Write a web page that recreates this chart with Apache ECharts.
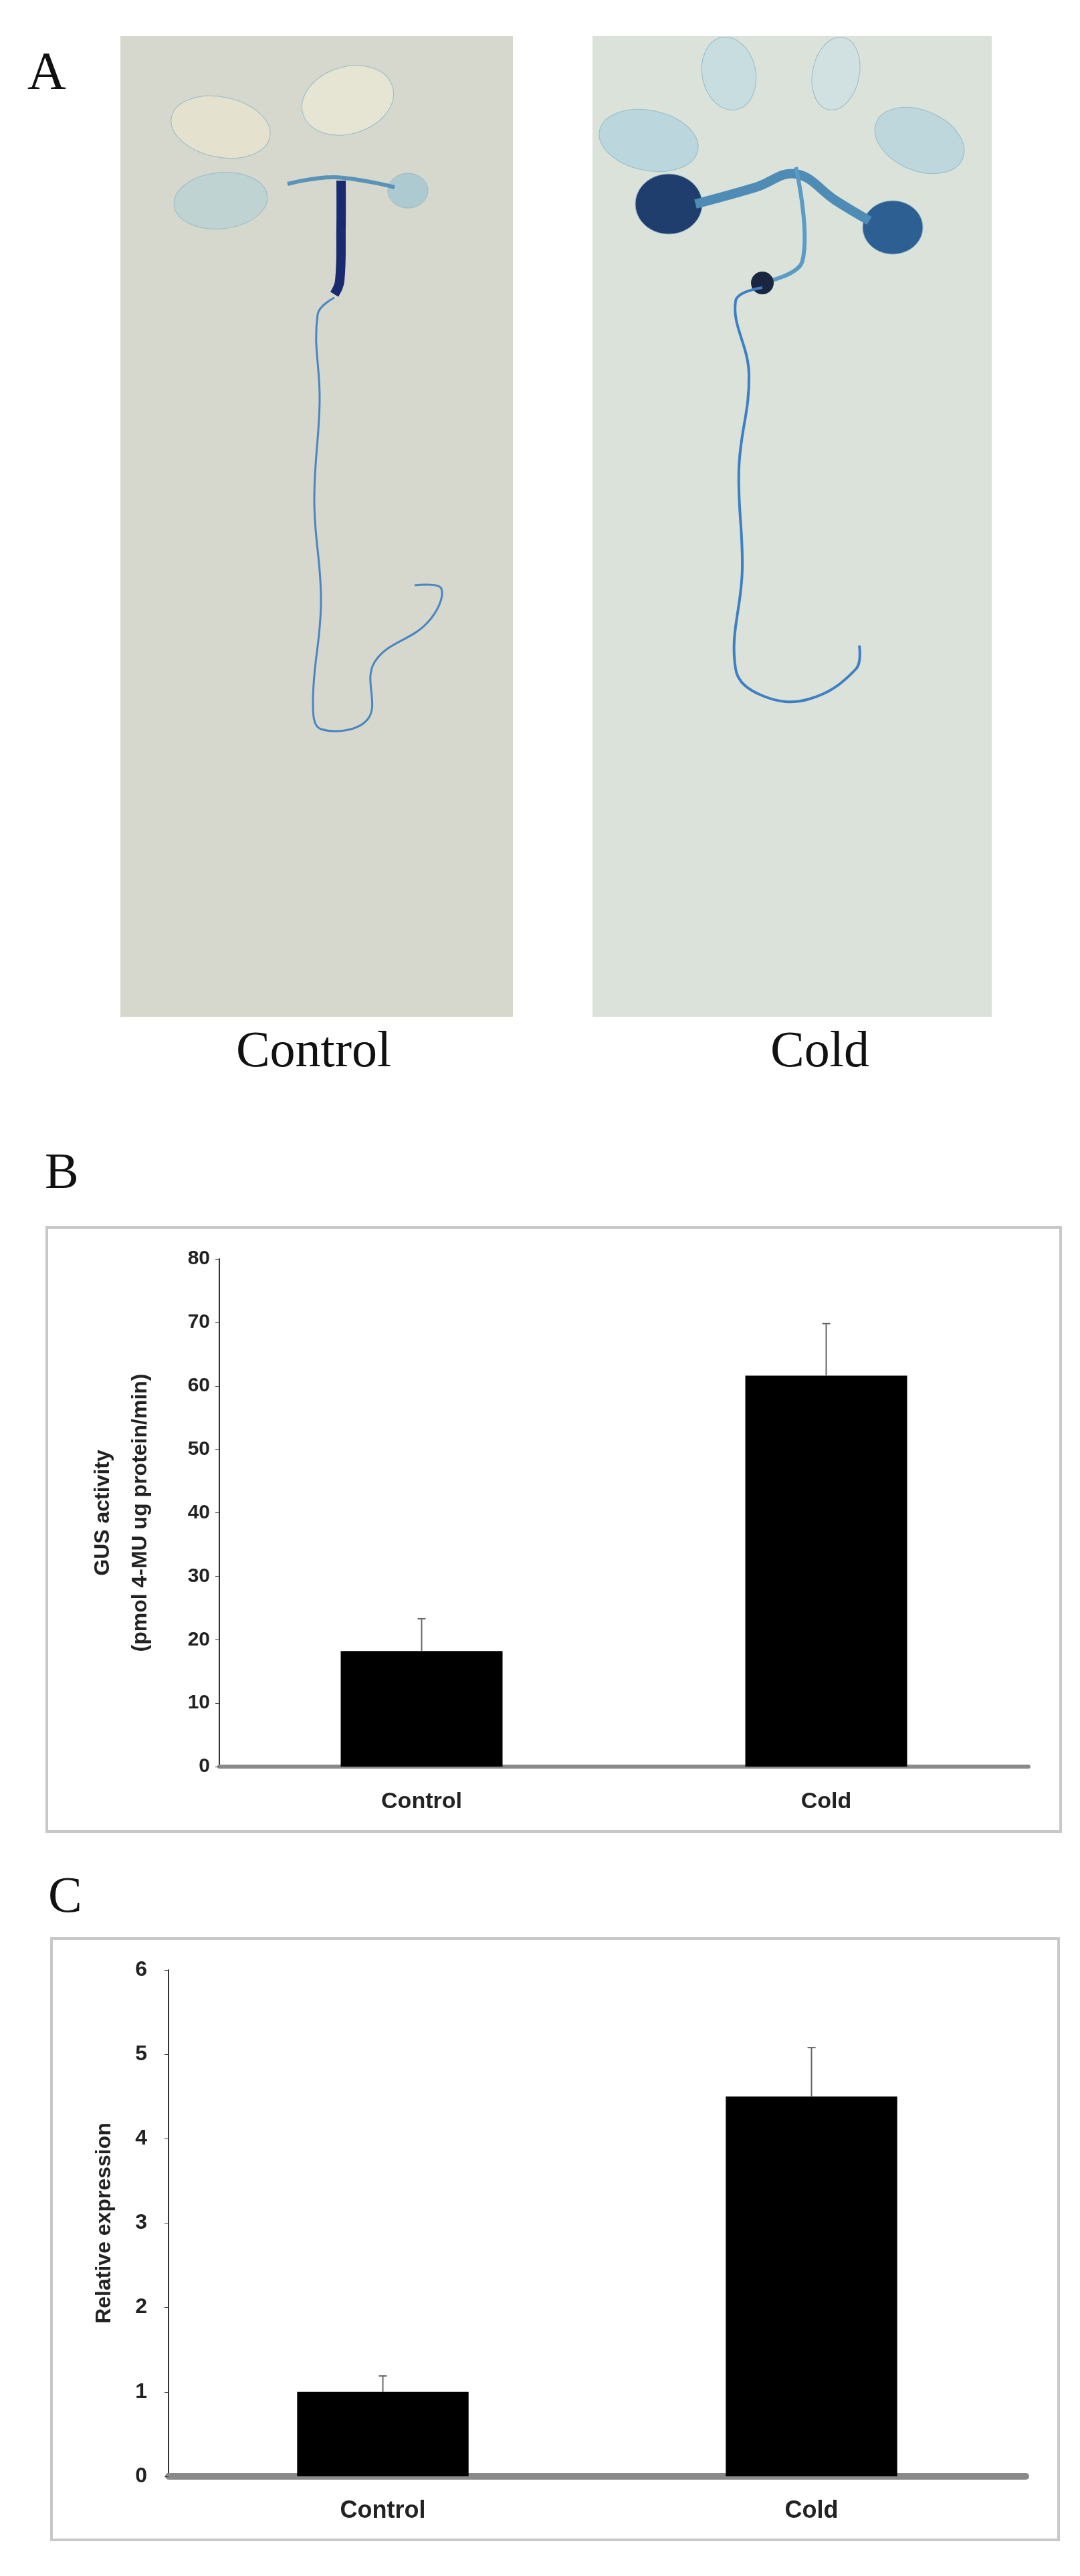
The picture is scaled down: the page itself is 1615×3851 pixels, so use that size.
<!DOCTYPE html>
<html>
<head>
<meta charset="utf-8">
<script src="https://cdn.jsdelivr.net/npm/echarts@6/dist/echarts.min.js"></script>
<style>html,body{margin:0;padding:0;background:#fff}#main{width:1615px;height:3851px}</style>
</head>
<body>
<div id="main"></div>
<script>
var categories = ["Control", "Cold"];
var gusValues = [18.2, 61.6];
var gusErrors = [5.1, 8.2];
var gusTicks = [0, 80, 10];
var exprValues = [1.0, 4.5];
var exprErrors = [0.19, 0.58];
var exprTicks = [0, 6, 1];

var chart = echarts.init(document.getElementById("main"));

function errSeries(idx, vals, errs) {
  return {
    type: "custom", xAxisIndex: idx, yAxisIndex: idx, z: 10,
    data: vals.map(function (v, i) { return [i, v, v + errs[i]]; }),
    renderItem: function (p, api) {
      var a = api.coord([api.value(0), api.value(1)]);
      var b = api.coord([api.value(0), api.value(2)]);
      return {type: "group", children: [
        {type: "line", shape: {x1: a[0], y1: a[1], x2: b[0], y2: b[1]}, style: {stroke: "#666", lineWidth: 2}},
        {type: "line", shape: {x1: b[0] - 6, y1: b[1], x2: b[0] + 6, y2: b[1]}, style: {stroke: "#666", lineWidth: 2}}
      ]};
    }
  };
}

function leaf(cx, cy, rx, ry, rot, color, op) {
  return {type: "ellipse", shape: {cx: 0, cy: 0, rx: rx, ry: ry}, x: cx, y: cy, rotation: rot,
    style: {fill: color, opacity: op, stroke: "#8fb8c8", lineWidth: 1}};
}
function root(points, w, color) {
  return {type: "polyline", shape: {points: points, smooth: 0.4}, style: {stroke: color, lineWidth: w, fill: null}};
}

var serif = "Liberation Serif";
var graphics = [
  {type: "text", left: 41, top: 72, style: {text: "A", font: "80px " + serif, fill: "#111"}},
  {type: "rect", shape: {x: 180, y: 54, width: 587, height: 1466}, style: {fill: "#d6d8cd"}},
  {type: "rect", shape: {x: 886, y: 54, width: 597, height: 1466}, style: {fill: "#dbe2da"}},
  // control seedling
  leaf(330, 190, 75, 45, -0.2, "#e6e3cf", 0.9),
  leaf(520, 150, 70, 50, 0.3, "#e8e5d4", 0.9),
  leaf(330, 300, 70, 42, 0.1, "#bcd3d4", 0.9),
  leaf(610, 285, 30, 26, 0, "#a8c9d0", 0.9),
  root([[430, 275], [500, 265], [590, 280]], 6, "#5a93b8"),
  root([[510, 270], [510, 340], [508, 420], [500, 440]], 14, "#1a2a70"),
  root([[500, 445], [475, 470], [478, 600], [470, 750], [480, 900], [468, 1050], [480, 1090], [550, 1075], [560, 990], [640, 930], [660, 880], [620, 875]], 3, "#4a86c0"),
  // cold seedling
  leaf(970, 210, 75, 45, -0.2, "#b7d5dc", 0.9),
  leaf(1090, 110, 40, 55, 0.2, "#c5dde0", 0.9),
  leaf(1250, 110, 35, 55, -0.2, "#cfe1e1", 0.9),
  leaf(1375, 210, 70, 45, -0.4, "#b9d6dc", 0.9),
  leaf(1000, 305, 50, 45, 0, "#1f3e6e", 1),
  leaf(1335, 340, 45, 40, 0, "#2d5f93", 1),
  root([[1040, 305], [1130, 280], [1190, 260], [1250, 300], [1300, 330]], 14, "#4f8cb5"),
  root([[1190, 250], [1200, 390], [1150, 420]], 6, "#5b9bc6"),
  {type: "circle", shape: {cx: 1140, cy: 423, r: 17}, style: {fill: "#1a2540"}},
  root([[1140, 430], [1100, 450], [1120, 560], [1105, 700], [1110, 850], [1100, 1000], [1140, 1040], [1210, 1045], [1280, 1000], [1285, 965]], 4, "#3e7fc4"),
  {type: "text", x: 469, y: 1574, style: {text: "Control", font: "76px " + serif, fill: "#111", align: "center", verticalAlign: "middle"}},
  {type: "text", x: 1226, y: 1574, style: {text: "Cold", font: "76px " + serif, fill: "#111", align: "center", verticalAlign: "middle"}},
  {type: "text", left: 67, top: 1718, style: {text: "B", font: "76px " + serif, fill: "#111"}},
  {type: "rect", shape: {x: 70, y: 1835, width: 1516, height: 903}, style: {fill: null, stroke: "#c8c8c8", lineWidth: 4}},
  {type: "text", left: 72, top: 2800, style: {text: "C", font: "76px " + serif, fill: "#111"}},
  {type: "rect", shape: {x: 77, y: 2898, width: 1506, height: 899}, style: {fill: null, stroke: "#c8c8c8", lineWidth: 4}}
];

option = {
  animation: false,
  graphic: graphics,
  grid: [
    {left: 328, right: 77, top: 1882, height: 759},
    {left: 252, right: 81, top: 2945, height: 757}
  ],
  xAxis: [0, 1].map(function (i) {
    return {
      type: "category", gridIndex: i, data: categories,
      axisLine: {lineStyle: {color: "#8a8a8a", width: i ? 10 : 6}},
      axisTick: {show: false},
      axisLabel: {color: "#222", fontFamily: "Liberation Sans", fontWeight: "bold", fontSize: i ? 36 : 34, margin: i ? 34 : 36}
    };
  }),
  yAxis: [
    {type: "value", gridIndex: 0, min: gusTicks[0], max: gusTicks[1], interval: gusTicks[2],
      name: "GUS activity\n(pmol 4-MU ug protein/min)", nameLocation: "middle", nameGap: 90, nameRotate: 90,
      nameTextStyle: {color: "#222", fontFamily: "Liberation Sans", fontWeight: "bold", fontSize: 32, lineHeight: 56},
      axisLine: {show: true, lineStyle: {color: "#333", width: 2}},
      axisTick: {show: true, length: 6, lineStyle: {color: "#333"}},
      splitLine: {show: false},
      axisLabel: {color: "#222", fontFamily: "Liberation Sans", fontWeight: "bold", fontSize: 30, margin: 14}},
    {type: "value", gridIndex: 1, min: exprTicks[0], max: exprTicks[1], interval: exprTicks[2],
      name: "Relative expression", nameLocation: "middle", nameGap: 80, nameRotate: 90,
      nameTextStyle: {color: "#222", fontFamily: "Liberation Sans", fontWeight: "bold", fontSize: 32},
      axisLine: {show: true, lineStyle: {color: "#333", width: 2}},
      axisTick: {show: true, length: 6, lineStyle: {color: "#333"}},
      splitLine: {show: false},
      axisLabel: {color: "#222", fontFamily: "Liberation Sans", fontWeight: "bold", fontSize: 32, margin: 32}}
  ],
  series: [
    {type: "bar", xAxisIndex: 0, yAxisIndex: 0, data: gusValues, barWidth: "40%", itemStyle: {color: "#000"}},
    errSeries(0, gusValues, gusErrors),
    {type: "bar", xAxisIndex: 1, yAxisIndex: 1, data: exprValues, barWidth: "40%", itemStyle: {color: "#000"}},
    errSeries(1, exprValues, exprErrors)
  ]
};
chart.setOption(option);
</script>
</body>
</html>
